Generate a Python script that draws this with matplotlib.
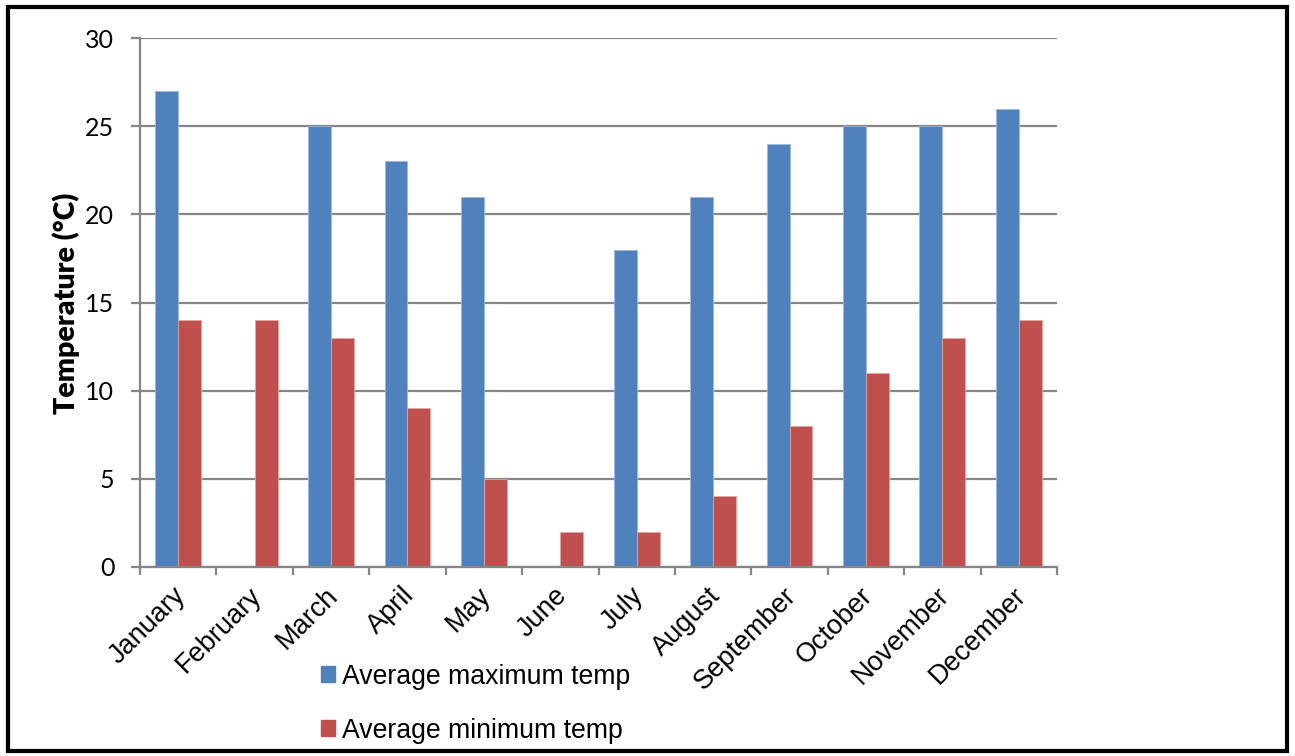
import numpy as np
import matplotlib
matplotlib.use("Agg")
import matplotlib.pyplot as plt
from matplotlib.patches import Rectangle, Patch
from matplotlib.transforms import ScaledTranslation

months = ["January", "February", "March", "April", "May", "June", "July",
          "August", "September", "October", "November", "December"]
avg_max = [27, np.nan, 25, 23, 21, np.nan, 18, 21, 24, 25, 25, 26]
avg_min = [14, 14, 13, 9, 5, 2, 2, 4, 8, 11, 13, 14]

blue = "#4F81BD"
red = "#C0504D"
grey = "#868686"

fig = plt.figure(figsize=(12.95, 7.56), dpi=100)
ax = fig.add_axes([140/1295, 1-567/756, (1057-140)/1295, (567-38)/756])

x = np.arange(len(months))
w = 0.3
ax.bar(x - w/2, avg_max, w, color=blue, edgecolor="#9DB9DE", linewidth=0.6)
ax.bar(x + w/2, avg_min, w, color=red, edgecolor="#E0A6A4", linewidth=0.6)

ax.set_xlim(-0.5, len(months) - 0.5)
ax.set_ylim(0, 30)
ax.set_yticks(range(0, 31, 5))
ax.yaxis.grid(True, color=grey, linewidth=1.6)
ax.set_axisbelow(True)

for s in ["top", "right"]:
    ax.spines[s].set_visible(False)
for s in ["left", "bottom"]:
    ax.spines[s].set_color(grey)
    ax.spines[s].set_linewidth(1.6)

ax.tick_params(axis="y", length=6.5, width=1.6, color=grey, pad=12,
               labelsize=18)
for lab in ax.get_yticklabels():
    lab.set_family("Lato")

# month labels at bar groups, tick marks on the category boundaries
ax.set_xticks(x)
ax.set_xticklabels(months, rotation=45, ha="right", rotation_mode="anchor",
                   family="Liberation Sans", fontsize=19.5)
ax.tick_params(axis="x", which="major", length=0, pad=11)
ax.set_xticks(np.arange(-0.5, len(months)), minor=True)
ax.tick_params(axis="x", which="minor", length=6, width=1.6, color=grey)
shift = ScaledTranslation(-0.06, 0, fig.dpi_scale_trans)
for lab in ax.get_xticklabels():
    lab.set_transform(lab.get_transform() + shift)

fig.text(66/1295, 1-303/756, "Temperature (°C)", rotation=90, ha="center",
         va="center", fontsize=20.5, fontweight="heavy", family="Lato")

handles = [Patch(color=blue), Patch(color=red)]
fig.legend(handles, ["Average maximum temp", "Average minimum temp"],
           loc="upper left", bbox_to_anchor=(310/1295, 1-653/756),
           frameon=False, prop={"family": "Liberation Sans", "size": 19.2},
           handlelength=0.55, handleheight=0.55, handletextpad=0.25,
           labelspacing=1.05, borderaxespad=0)

fig.patches.append(Rectangle((8/1295, 1-751/756), 1279/1295, 744/756,
                             transform=fig.transFigure, fill=False,
                             edgecolor="black", linewidth=3))

fig.savefig("out.png", dpi=100, facecolor="white")
